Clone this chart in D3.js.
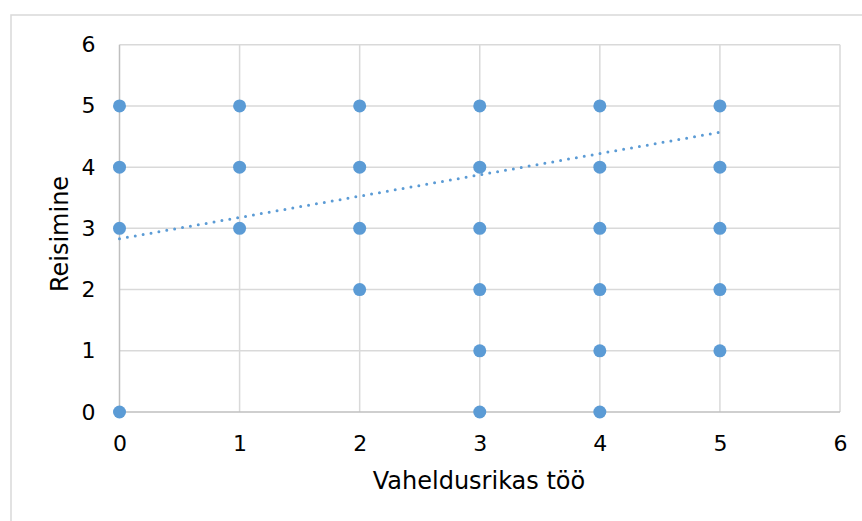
<!DOCTYPE html>
<html><head><meta charset="utf-8">
<script src="https://cdn.jsdelivr.net/npm/d3@7"></script>
<style>body{margin:0;background:#fff}svg{display:block}</style>
</head><body>
<svg id="c" width="862" height="521"></svg>
<script>
const xValues = [0,0,0,0, 1,1,1, 2,2,2,2, 3,3,3,3,3,3, 4,4,4,4,4,4, 5,5,5,5,5];
const yValues = [0,3,4,5, 3,4,5, 2,3,4,5, 0,1,2,3,4,5, 0,1,2,3,4,5, 1,2,3,4,5];
const xTicks = [0,1,2,3,4,5,6];
const yTicks = [0,1,2,3,4,5,6];
const trendX = [0,5];
const trendY = [2.83,4.57];
const xTitle = "Vaheldusrikas töö";
const yTitle = "Reisimine";

const svg = d3.select("#c");
const font = "'DejaVu Sans', Verdana, sans-serif";
svg.append("rect").attr("x",11).attr("y",15).attr("width",862).attr("height",520)
  .attr("fill","#fff").attr("stroke","#d9d9d9").attr("stroke-width",1.5);

const x = d3.scaleLinear().domain([0,6]).range([119.5,840]);
const y = d3.scaleLinear().domain([0,6]).range([412,44.7]);

const g = svg.append("g");
g.selectAll(".vg").data(xTicks.slice(1)).join("line")
  .attr("x1",d=>x(d)).attr("x2",d=>x(d)).attr("y1",y(0)).attr("y2",y(6))
  .attr("stroke","#d9d9d9").attr("stroke-width",1.5);
g.selectAll(".hg").data(yTicks.slice(1)).join("line")
  .attr("x1",x(0)).attr("x2",x(6)).attr("y1",d=>y(d)).attr("y2",d=>y(d))
  .attr("stroke","#d9d9d9").attr("stroke-width",1.5);
g.append("line").attr("x1",x(0)).attr("x2",x(0)).attr("y1",y(0)).attr("y2",y(6))
  .attr("stroke","#bfbfbf").attr("stroke-width",1.5);
g.append("line").attr("x1",x(0)).attr("x2",x(6)).attr("y1",y(0)).attr("y2",y(0))
  .attr("stroke","#bfbfbf").attr("stroke-width",1.5);

const yAxis = d3.axisLeft(y).tickValues(yTicks).tickSize(0).tickPadding(24).tickFormat(d3.format("d"));
const xAxis = d3.axisBottom(x).tickValues(xTicks).tickSize(0).tickPadding(23).tickFormat(d3.format("d"));
const ya = svg.append("g").attr("transform",`translate(${x(0)},0)`).call(yAxis);
const xa = svg.append("g").attr("transform",`translate(0,${y(0)})`).call(xAxis);
[ya,xa].forEach(a=>{a.select(".domain").remove();
  a.selectAll("text").attr("font-family",font).attr("font-size",22).attr("fill","#000");});

svg.append("line").attr("x1",x(trendX[0])).attr("y1",y(trendY[0]))
  .attr("x2",x(trendX[1])).attr("y2",y(trendY[1]))
  .attr("stroke","#5b9bd5").attr("stroke-width",3)
  .attr("stroke-dasharray","0 8").attr("stroke-linecap","round");

svg.selectAll(".pt").data(xValues.map((v,i)=>[v,yValues[i]])).join("circle")
  .attr("cx",d=>x(d[0])).attr("cy",d=>y(d[1])).attr("r",6.5).attr("fill","#5b9bd5");

svg.append("text").attr("x",479).attr("y",489).attr("text-anchor","middle")
  .attr("font-family",font).attr("font-size",24).text(xTitle);
svg.append("text").attr("transform","translate(68,234) rotate(-90)").attr("text-anchor","middle")
  .attr("font-family",font).attr("font-size",24).text(yTitle);
</script>
</body></html>
